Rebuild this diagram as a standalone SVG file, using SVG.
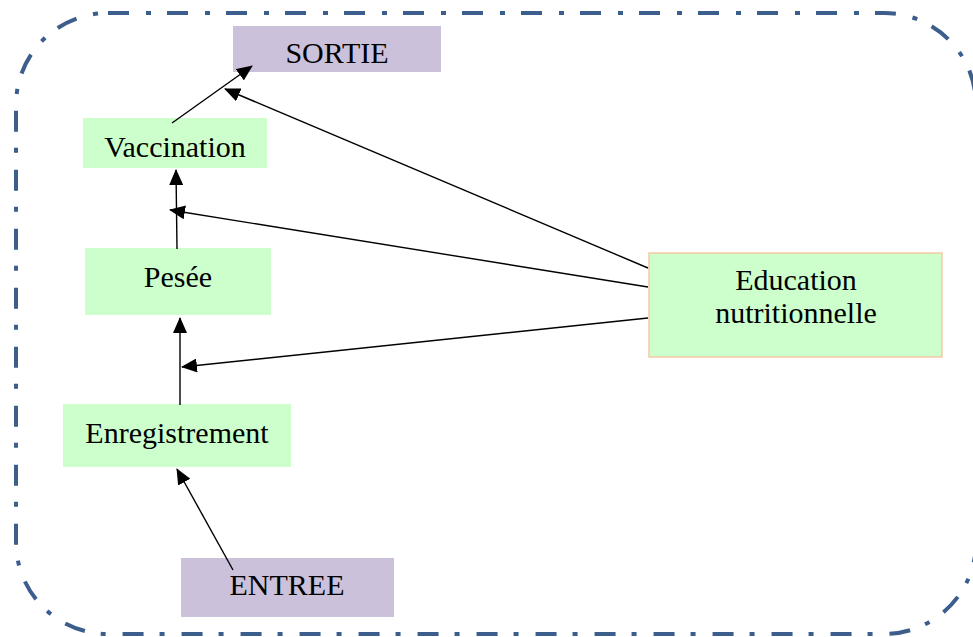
<svg xmlns="http://www.w3.org/2000/svg" width="973" height="637" viewBox="0 0 973 637">
<defs>
<style>
.frame{fill:none;stroke:#3b5e8c;stroke-width:4;stroke-dasharray:21 17 5 16}
.green{fill:#ccffcc}
.purple{fill:#ccc1da}
.edu{fill:#ccffcc;stroke:#f7c9a4;stroke-width:1.5}
.lbl{font-family:"Liberation Serif","Times New Roman",serif;font-size:30px;fill:#000;text-anchor:middle}
.conn line{stroke:#000;stroke-width:1.4;marker-end:url(#ah)}
</style>
<marker id="ah" viewBox="0 0 16 14" refX="15" refY="7" markerWidth="16" markerHeight="14" markerUnits="userSpaceOnUse" orient="auto">
<path d="M0,0 L16,7 L0,14 Z" fill="#000"/>
</marker>
</defs>
<rect class="frame" x="16" y="13" width="960" height="621" rx="92" ry="92"/>
<g id="sortie"><rect class="purple" x="233" y="26" width="208" height="46"/><text class="lbl" x="337" y="63">SORTIE</text></g>
<g id="vaccination"><rect class="green" x="83" y="118" width="184" height="50"/><text class="lbl" x="175" y="157">Vaccination</text></g>
<g id="pesee"><rect class="green" x="85" y="248" width="186" height="67"/><text class="lbl" x="178" y="287">Pesée</text></g>
<g id="enregistrement"><rect class="green" x="63" y="404" width="228" height="63"/><text class="lbl" x="177" y="443">Enregistrement</text></g>
<g id="entree"><rect class="purple" x="181" y="558" width="213" height="59"/><text class="lbl" x="287" y="595">ENTREE</text></g>
<g id="education"><rect class="edu" x="649" y="253" width="293" height="104"/><text class="lbl" x="796" y="290">Education</text><text class="lbl" x="796" y="323">nutritionnelle</text></g>
<g id="connectors" class="conn">
<line x1="172" y1="123" x2="252" y2="66"/>
<line x1="648" y1="268" x2="225" y2="89"/>
<line x1="648" y1="287" x2="170" y2="210"/>
<line x1="648" y1="318" x2="182" y2="367"/>
<line x1="177" y1="249" x2="176" y2="170"/>
<line x1="180" y1="405" x2="180" y2="318"/>
<line x1="233" y1="570" x2="177" y2="469"/>
</g>
</svg>
